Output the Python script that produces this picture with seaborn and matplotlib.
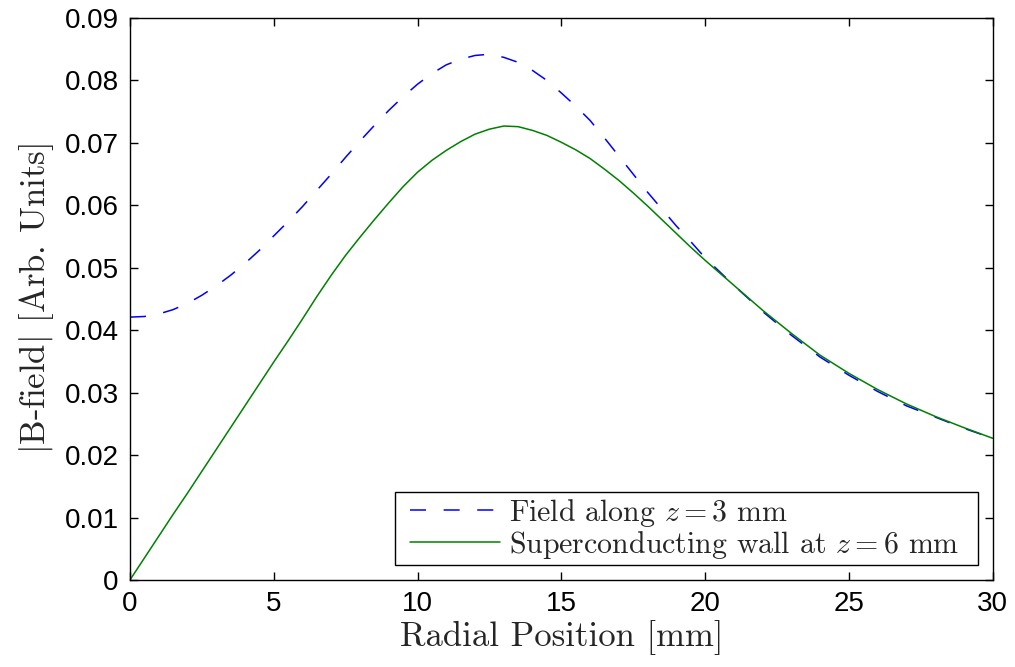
import numpy as np
import pandas as pd
import matplotlib
matplotlib.use("Agg")
import matplotlib.pyplot as plt
from matplotlib.path import Path
import seaborn as sns

# ---- data ----
x_field = [0, 0.5, 1, 1.5, 2, 2.5, 3, 3.5, 4, 4.5, 5, 5.5, 6, 6.5, 7, 7.5, 8, 8.5,
           9, 9.5, 10, 10.5, 11, 11.5, 12, 12.5, 13, 13.5, 14, 14.5, 15, 15.5, 16,
           16.5, 17, 17.5, 18, 18.5, 19, 19.5, 20, 21, 22, 23, 24, 25, 26, 27, 28,
           29, 30]
b_field = [0.0421, 0.0422, 0.0426, 0.0433, 0.0443, 0.0456, 0.0471, 0.0488, 0.0507,
           0.0528, 0.0551, 0.0574, 0.0598, 0.0624, 0.0650, 0.0677, 0.0703, 0.0728,
           0.0752, 0.0774, 0.0794, 0.0811, 0.0825, 0.0834, 0.0840, 0.0842, 0.0837,
           0.0829, 0.0816, 0.0800, 0.0780, 0.0759, 0.0736, 0.0708, 0.0679, 0.0650,
           0.0621, 0.0594, 0.0567, 0.0542, 0.0516, 0.0472, 0.0430, 0.0392, 0.0357,
           0.0328, 0.0302, 0.0279, 0.0261, 0.0243, 0.0227]

x_wall = [0, 0.5, 1, 1.5, 2, 2.5, 3, 3.5, 4, 4.5, 5, 5.5, 6, 6.5, 7, 7.5, 8, 8.5,
          9, 9.5, 10, 10.5, 11, 11.5, 12, 12.5, 13, 13.5, 14, 14.5, 15, 15.5, 16,
          16.5, 17, 17.5, 18, 18.5, 19, 19.5, 20, 21, 22, 23, 24, 25, 26, 27, 28,
          29, 30]
b_wall = [0.0, 0.0035, 0.0070, 0.0105, 0.0139, 0.0174, 0.0209, 0.0244, 0.0279,
          0.0314, 0.0349, 0.0383, 0.0418, 0.0454, 0.0488, 0.0520, 0.0549, 0.0577,
          0.0604, 0.0630, 0.0653, 0.0672, 0.0688, 0.0702, 0.0714, 0.0722, 0.0727,
          0.0726, 0.0720, 0.0712, 0.0701, 0.0689, 0.0675, 0.0658, 0.0640, 0.0620,
          0.0599, 0.0577, 0.0555, 0.0533, 0.0512, 0.0472, 0.0432, 0.0395, 0.0360,
          0.0331, 0.0305, 0.0282, 0.0262, 0.0244, 0.0227]

label_field = r"Field along $z = 3$ mm"
label_wall = r"Superconducting wall at $z = 6$ mm"
x_ticks = [0, 5, 10, 15, 20, 25, 30]
y_ticks = [0, 0.01, 0.02, 0.03, 0.04, 0.05, 0.06, 0.07, 0.08, 0.09]
y_tick_labels = ["0", "0.01", "0.02", "0.03", "0.04", "0.05", "0.06", "0.07", "0.08", "0.09"]

sns.set_style("ticks")
plt.rcParams["font.family"] = ["Liberation Sans", "DejaVu Sans"]
plt.rcParams["mathtext.fontset"] = "cm"
plt.rcParams["axes.linewidth"] = 1.0

fig = plt.figure(figsize=(10.15, 6.67), dpi=100)
ax = fig.add_axes([0.128, 0.1304, 0.850, 0.8426])

sns.lineplot(x=x_field, y=b_field, ax=ax, color=(0, 0, 1), linewidth=1.1,
             label=label_field, estimator=None, sort=False)
sns.lineplot(x=x_wall, y=b_wall, ax=ax, color=(0, 0.5, 0), linewidth=1.1,
             label=label_wall, estimator=None, sort=False)
ax.lines[0].set_linestyle((0, (10.5, 11.5)))

ax.set_xlim(0, 30)
ax.set_ylim(0, 0.09)
ax.set_xticks(x_ticks)
ax.set_xticklabels([str(t) for t in x_ticks])
ax.set_yticks(y_ticks)
ax.set_yticklabels(y_tick_labels)
ax.tick_params(direction="in", length=6, width=1.0, top=True, right=True,
               colors="black", pad=8, labelsize=20)
for s in ax.spines.values():
    s.set_visible(True)
    s.set_color("black")

ax.set_xlabel("Radial Position [mm]", fontfamily="cmr10", fontsize=25, labelpad=2)
ax.set_ylabel(r"$|$B-field$|$ [Arb. Units]", fontfamily="cmr10", fontsize=25, labelpad=6)

leg = ax.legend(loc="lower right", bbox_to_anchor=(0.9664, 0.0267),
                prop={"family": "cmr10", "size": 21.5},
                handlelength=3.0, handletextpad=0.3, borderpad=0.15,
                labelspacing=0.0, borderaxespad=0.0, fancybox=False,
                framealpha=1, edgecolor="black")


def wide_box(x0, y0, width, height, mutation_size):
    # MATLAB-style legend frame: wider horizontal padding than vertical
    left = 0.37 * mutation_size
    right = 0.47 * mutation_size
    return Path([(x0 - left, y0), (x0 + width + right, y0),
                 (x0 + width + right, y0 + height), (x0 - left, y0 + height),
                 (x0 - left, y0)], closed=True)


leg.get_frame().set_boxstyle(wide_box)
leg.get_frame().set_linewidth(1.0)

fig.savefig("out.png", dpi=100)
